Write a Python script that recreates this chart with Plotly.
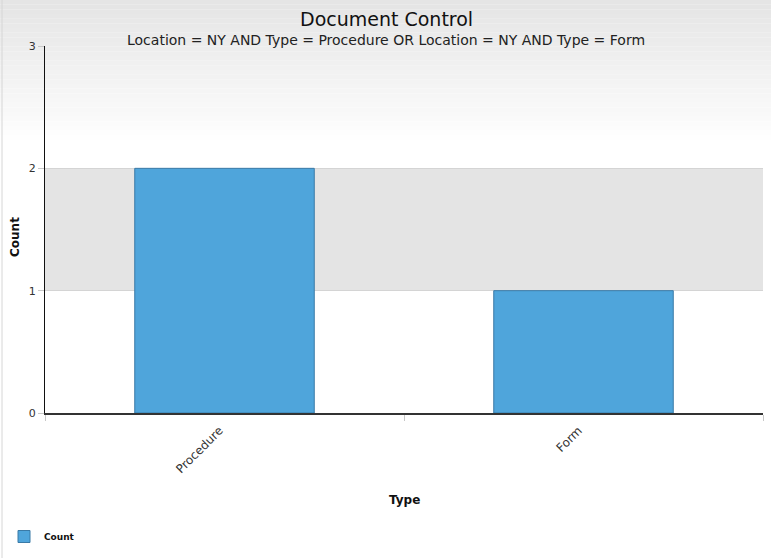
import plotly.graph_objects as go

types = ["Procedure", "Form"]
counts = [2, 1]

W, H = 771, 558
ML, MR, MT, MB = 45, 8, 46, 145
pw = W - ML - MR
ph = H - MT - MB


def px_x(x):
    return (x - ML) / pw


def px_y(y):
    return (H - MB - y) / ph


bar = go.Bar(
    x=types, y=counts, name="Count",
    marker=dict(color="#4fa5db", line=dict(color="#3a7aa6", width=1)),
    showlegend=True,
)

shapes = []
# light grey fade at the top of the page
n = 30
top, bottom = 0, 140
for i in range(n):
    y0 = top + (bottom - top) * i / n
    y1 = top + (bottom - top) * (i + 1) / n
    g = int(229 + (255 - 229) * i / n)
    shapes.append(dict(type="rect", xref="paper", yref="paper", layer="below",
                       x0=px_x(0), x1=px_x(W), y0=px_y(y1), y1=px_y(y0),
                       fillcolor="rgb(%d,%d,%d)" % (g, g, g), line=dict(width=0)))
# grey band between 1 and 2
shapes.append(dict(type="rect", xref="x domain", yref="y", layer="below",
                   x0=0, x1=1, y0=1, y1=2, fillcolor="#e4e4e4", line=dict(width=0)))
# thin border at the left edge
shapes.append(dict(type="line", xref="paper", yref="paper",
                   x0=px_x(2), x1=px_x(2), y0=px_y(0), y1=px_y(H),
                   line=dict(color="#d6d6d6", width=1)))


def note(text, x, y, size, bold=False, angle=0, color="#111"):
    return dict(text=text, xref="paper", yref="paper", x=px_x(x), y=px_y(y),
                xanchor="center", yanchor="middle", showarrow=False, textangle=angle,
                font=dict(size=size, color=color, weight="bold" if bold else "normal"))


fig = go.Figure(data=[bar])
fig.update_layout(
    width=W, height=H,
    margin=dict(l=ML, r=MR, t=MT, b=MB, autoexpand=False),
    paper_bgcolor="white", plot_bgcolor="rgba(0,0,0,0)",
    font=dict(family="DejaVu Sans", color="#222", size=11),
    bargap=0.5,
    shapes=shapes,
    showlegend=True,
    legend=dict(orientation="h", xref="container", yref="container",
                x=4 / W, y=1 - 522 / H, xanchor="left", yanchor="top",
                font=dict(size=9, family="DejaVu Sans", weight="bold", color="#111"),
                bgcolor="rgba(0,0,0,0)"),
    annotations=[
        note("Document Control", 386, 19, 19),
        note("Location = NY AND Type = Procedure OR Location = NY AND Type = Form",
             386, 40, 14, color="#222"),
        note("Type", 404, 500, 12, bold=True),
        note("Count", 15, 237, 12, bold=True, angle=-90),
    ],
)
fig.update_xaxes(
    range=[-0.5, 1.5], tickangle=-45, tickson="boundaries",
    ticks="outside", ticklen=6, tickcolor="#c8c8c8",
    ticklabelstandoff=4, ticklabelshift=-5,
    showline=True, linecolor="#333", linewidth=1.5, automargin=False,
    showgrid=False, tickfont=dict(size=12, color="#333"),
)
fig.update_yaxes(
    range=[0, 3], dtick=1, ticks="outside", ticklen=6, tickcolor="#c8c8c8",
    showline=True, linecolor="#111", linewidth=1, automargin=False,
    showgrid=True, gridcolor="#d4d4d4", gridwidth=1,
    zeroline=False, tickfont=dict(size=11, color="#333"),
)

fig.write_html("out.html", config={"displayModeBar": False},
               post_script="document.body.style.margin='0';document.body.style.overflow='hidden';")
